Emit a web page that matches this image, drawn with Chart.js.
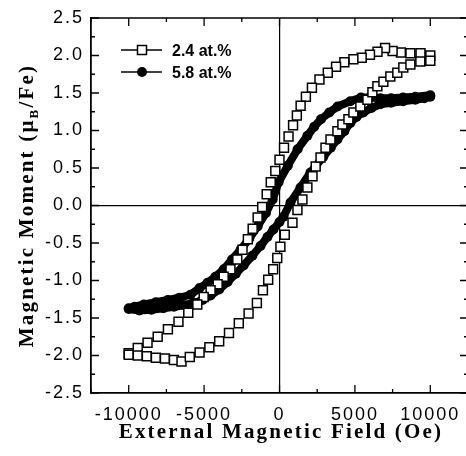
<!DOCTYPE html>
<html>
<head>
<meta charset="utf-8">
<script src="https://cdn.jsdelivr.net/npm/chart.js@4/dist/chart.umd.min.js"></script>
<style>
html, body { margin: 0; padding: 0; background: #fff; overflow: hidden; }
#wrap { width: 479px; height: 456px; }
</style>
</head>
<body>
<div id="wrap"><canvas id="chart"></canvas></div>
<script>
// 2.4 at.% (open squares), field sweep down then up
var field24Down = [10000, 9350, 8680, 8050, 7500, 7000, 6500, 6000, 5450, 4900, 4300, 3750, 3200, 2650, 2150, 1750, 1400, 1150, 900, 600, 300, 0, -280, -580, -850, -1150, -1450, -1780, -2100, -2450, -2800, -3250, -3700, -4100, -4570, -5030, -5450, -6050, -6700, -7400, -8080, -8750, -9400, -10000];
var moment24Down = [2.00, 2.03, 2.03, 2.04, 2.06, 2.10, 2.05, 2.01, 1.97, 1.95, 1.91, 1.85, 1.77, 1.68, 1.57, 1.45, 1.33, 1.20, 1.07, 0.92, 0.77, 0.61, 0.46, 0.31, 0.15, -0.02, -0.16, -0.31, -0.45, -0.59, -0.72, -0.85, -0.95, -1.05, -1.13, -1.22, -1.32, -1.43, -1.55, -1.65, -1.75, -1.83, -1.90, -1.97];
var field24Up = [-10000, -9400, -8800, -8200, -7600, -7000, -6500, -5950, -5300, -4650, -4000, -3350, -2700, -2050, -1500, -1100, -750, -420, -150, 60, 350, 860, 1190, 1520, 1850, 2190, 2400, 2720, 3050, 3380, 3840, 4170, 4570, 4900, 5360, 5830, 6160, 6490, 6890, 7350, 7810, 8210, 8680, 9340, 10000];
var moment24Up = [-1.99, -2.00, -2.01, -2.03, -2.04, -2.06, -2.08, -2.02, -1.96, -1.89, -1.81, -1.70, -1.57, -1.44, -1.30, -1.13, -0.99, -0.85, -0.70, -0.55, -0.39, -0.23, -0.06, 0.08, 0.24, 0.39, 0.52, 0.64, 0.77, 0.88, 0.99, 1.08, 1.15, 1.24, 1.32, 1.41, 1.51, 1.59, 1.65, 1.72, 1.77, 1.84, 1.88, 1.92, 1.93];

// 5.8 at.% (filled circles)
var field58Down = [10000, 9000, 8200, 7400, 6700, 6000, 5400, 4700, 3850, 3300, 2750, 2300, 1850, 1200, 550, -60, -450, -900, -1450, -2000, -2580, -3150, -3700, -4250, -4770, -5300, -5900, -6650, -7400, -8200, -9000, -9600, -10000];
var moment58Down = [1.47, 1.45, 1.44, 1.43, 1.43, 1.44, 1.44, 1.39, 1.32, 1.24, 1.15, 1.05, 0.93, 0.75, 0.53, 0.31, 0.08, -0.10, -0.28, -0.44, -0.59, -0.72, -0.85, -0.95, -1.03, -1.10, -1.19, -1.23, -1.26, -1.29, -1.32, -1.35, -1.37];
var field58Up = [-10000, -9300, -8500, -7700, -7000, -6300, -5700, -5100, -4570, -4000, -3440, -2900, -2380, -1800, -1260, -800, -400, 0, 265, 730, 1390, 2050, 2910, 3400, 3840, 4300, 4700, 5100, 5560, 6100, 6690, 7400, 8200, 9000, 9600, 10000];
var moment58Up = [-1.38, -1.40, -1.39, -1.37, -1.35, -1.33, -1.30, -1.26, -1.20, -1.12, -1.02, -0.91, -0.80, -0.67, -0.54, -0.42, -0.32, -0.22, -0.15, 0.04, 0.24, 0.44, 0.65, 0.77, 0.88, 0.99, 1.10, 1.18, 1.24, 1.30, 1.35, 1.37, 1.39, 1.41, 1.43, 1.45];

var seriesNames = ['2.4 at.%', '5.8 at.%'];
var xTickLabels = [-10000, -5000, 0, 5000, 10000];
var yTickLabels = ['-2.5', '-2.0', '-1.5', '-1.0', '-0.5', '0.0', '0.5', '1.0', '1.5', '2.0', '2.5'];

function toPoints(f, m) {
    return f.map(function (x, i) { return { x: x, y: m[i] }; });
}

var framePlugin = {
    id: 'frame',
    beforeDraw: function (chart) {
        chart.ctx.letterSpacing = '2px'; // wide tick digits like the scan
    },
    afterDraw: function (chart) {
        var ctx = chart.ctx, a = chart.chartArea;
        var xs = chart.scales.x, ys = chart.scales.y;
        ctx.save();
        ctx.strokeStyle = '#000';
        ctx.lineWidth = 1.6;
        ctx.beginPath();
        ctx.moveTo(a.left, a.top); ctx.lineTo(a.right, a.top); ctx.lineTo(a.right, a.bottom);
        ctx.stroke();
        // inward ticks on all four sides
        ctx.lineWidth = 1.3;
        ctx.beginPath();
        xs.ticks.forEach(function (t) {
            var px = xs.getPixelForValue(t.value);
            var len = t.value % 5000 === 0 ? 8 : 4;
            ctx.moveTo(px, a.bottom); ctx.lineTo(px, a.bottom - len);
            ctx.moveTo(px, a.top); ctx.lineTo(px, a.top + len);
        });
        ys.ticks.forEach(function (t) {
            var py = ys.getPixelForValue(t.value);
            var major = Math.abs(t.value * 2 - Math.round(t.value * 2)) < 1e-6;
            var len = major ? 8 : 4;
            ctx.moveTo(a.left, py); ctx.lineTo(a.left + len, py);
            ctx.moveTo(a.right, py); ctx.lineTo(a.right - len, py);
        });
        ctx.stroke();

        // axis titles
        ctx.fillStyle = '#000';
        ctx.letterSpacing = '2.2px';
        ctx.font = 'bold 21px "Liberation Serif"';
        ctx.textAlign = 'center';
        ctx.textBaseline = 'alphabetic';
        ctx.fillText('External Magnetic Field (Oe)', 281, 438);

        var parts = [['Magnetic Moment (\u03bc', 'bold 21px "Liberation Serif"', 0],
                     ['B', 'bold 13px "Liberation Serif"', 5],
                     ['/Fe)', 'bold 21px "Liberation Serif"', 0]];
        var total = 0;
        parts.forEach(function (p) { ctx.font = p[1]; p.push(ctx.measureText(p[0]).width); total += p[3]; });
        ctx.save();
        ctx.translate(33, (a.top + a.bottom) / 2);
        ctx.rotate(-Math.PI / 2);
        ctx.textAlign = 'left';
        var cx = -total / 2;
        parts.forEach(function (p) { ctx.font = p[1]; ctx.fillText(p[0], cx, p[2]); cx += p[3]; });
        ctx.restore();

        // legend
        ctx.letterSpacing = '0px';
        ctx.textAlign = 'left';
        ctx.font = 'bold 16px "Liberation Sans"';
        var rows = [50, 72];
        ctx.lineWidth = 1.5;
        rows.forEach(function (y, i) {
            ctx.beginPath();
            ctx.moveTo(121, y); ctx.lineTo(162, y);
            ctx.stroke();
            if (i === 0) {
                ctx.fillStyle = '#fff';
                ctx.fillRect(137.5, y - 4.5, 9, 9);
                ctx.strokeRect(137.5, y - 4.5, 9, 9);
            } else {
                ctx.beginPath();
                ctx.arc(142, y, 5, 0, Math.PI * 2);
                ctx.fillStyle = '#000';
                ctx.fill();
            }
            ctx.fillStyle = '#000';
            ctx.fillText(seriesNames[i], 172, y + 6);
        });
        ctx.restore();
    }
};

var zeroLine = function (c) { return c.tick && c.tick.value === 0 ? '#000' : 'rgba(0,0,0,0)'; };

new Chart(document.getElementById('chart'), {
    type: 'scatter',
    data: {
        datasets: [{
            label: seriesNames[0],
            data: toPoints(field24Down, moment24Down).concat(toPoints(field24Up, moment24Up)),
            showLine: false,
            pointStyle: 'rect',
            pointRadius: 6.3,
            pointBackgroundColor: '#fff',
            pointBorderColor: '#000',
            pointBorderWidth: 1.5
        }, {
            label: seriesNames[1],
            data: toPoints(field58Down, moment58Down).concat(toPoints(field58Up, moment58Up)),
            showLine: true,
            borderColor: '#000',
            borderWidth: 8,
            borderJoinStyle: 'round',
            borderCapStyle: 'round',
            tension: 0,
            pointStyle: 'circle',
            pointRadius: 5,
            pointBackgroundColor: '#000',
            pointBorderWidth: 0
        }]
    },
    options: {
        responsive: true,
        maintainAspectRatio: false,
        animation: false,
        layout: { padding: { top: 18, right: 2, left: 0, bottom: 0 } },
        plugins: { legend: { display: false }, tooltip: { enabled: false } },
        scales: {
            x: {
                type: 'linear',
                min: -12500,
                max: 12500,
                afterFit: function (s) { s.height = 63; },
                ticks: {
                    stepSize: 2500,
                    autoSkip: false,
                    maxRotation: 0,
                    padding: 11,
                    color: '#000',
                    font: { family: '"Liberation Sans"', size: 18 },
                    callback: function (v) { return xTickLabels.indexOf(v) >= 0 ? String(v) : ''; }
                },
                grid: { drawTicks: false, color: zeroLine, lineWidth: 1.2 },
                border: { display: true, color: '#000', width: 1.8 }
            },
            y: {
                type: 'linear',
                min: -2.5,
                max: 2.5,
                afterFit: function (s) { s.width = 91; },
                ticks: {
                    stepSize: 0.25,
                    autoSkip: false,
                    padding: 7,
                    color: '#000',
                    font: { family: '"Liberation Sans"', size: 18 },
                    callback: function (v) {
                        var s = v.toFixed(1);
                        return Math.abs(v * 2 - Math.round(v * 2)) < 1e-6 && yTickLabels.indexOf(s) >= 0 ? s : '';
                    }
                },
                grid: { drawTicks: false, color: zeroLine, lineWidth: 1.2 },
                border: { display: true, color: '#000', width: 1.8 }
            }
        }
    },
    plugins: [framePlugin]
});
</script>
</body>
</html>
